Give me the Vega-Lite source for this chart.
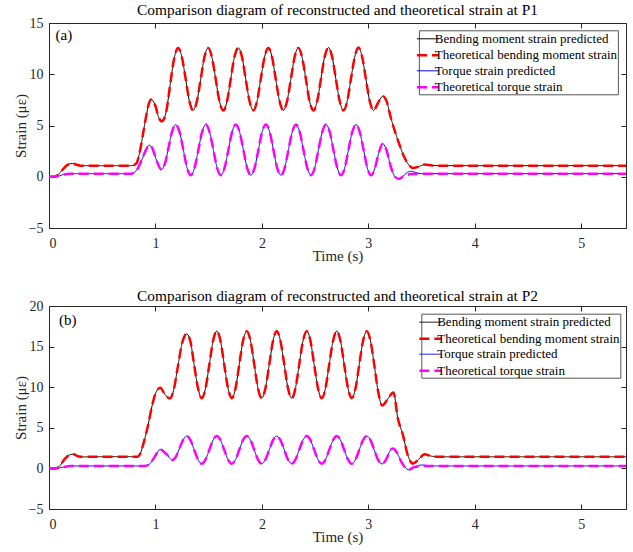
{
  "$schema": "https://vega.github.io/schema/vega-lite/v6.json",
  "padding": {"left": 12, "top": 2, "right": 0, "bottom": 0},
  "spacing": 24,
  "config": {
    "font": "Liberation Serif",
    "view": {"stroke": "#262626", "strokeWidth": 1},
    "axis": {"grid": false, "domain": false, "tickSize": -5, "tickColor": "#262626", "labelFont": "Liberation Serif", "labelFontSize": 14, "labelColor": "#262626", "titleFont": "Liberation Serif", "titleFontSize": 15, "titleFontWeight": "normal", "titleColor": "#262626"},
    "axisX": {"labelPadding": 13},
    "axisY": {"labelPadding": 11},
    "title": {"font": "Liberation Serif", "fontSize": 15.4, "fontWeight": "normal", "color": "#000000", "anchor": "middle"},
    "legend": {"labelFont": "Liberation Serif", "labelFontSize": 13, "labelColor": "#000000", "labelLimit": 0, "strokeColor": "#555555", "fillColor": "#ffffff", "padding": 0, "rowPadding": 0, "labelOffset": 1.2, "symbolOffset": -3.3, "symbolType": "M-1,0H1.9", "symbolSize": 234}
  },
  "datasets": {
    "p1": [
      {"t":0,"BP":0,"BT":0},{"t":0.05,"BP":0,"BT":0},{"t":0.08,"BP":0.15,"BT":0.15},{"t":0.12,"BP":0.6,"BT":0.6},{"t":0.16,"BP":1.05,"BT":1.05},{"t":0.2,"BP":1.27,"BT":1.27},{"t":0.22,"BP":1.3,"BT":1.3},{"t":0.25,"BP":1.2,"BT":1.2},{"t":0.3,"BP":1.08,"BT":1.08},{"t":0.78,"BP":1.08,"BT":1.08},{"t":0.82,"BP":1.3,"BT":1.3},{"t":0.86,"BP":2.8,"BT":2.8},{"t":0.89,"BP":4.6,"BT":4.6},{"t":0.92,"BP":6.3,"BT":6.3},{"t":0.94,"BP":7.2,"BT":7.2},{"t":0.962,"BP":7.53,"BT":7.53},{"t":1.0,"BP":6.9,"BT":6.9},{"t":1.03,"BP":5.8,"BT":5.8},{"t":1.06,"BP":5.41,"BT":5.41},{"t":1.1,"BP":6.3,"BT":6.3},{"t":1.137,"BP":8.9,"BT":8.9},{"t":1.175,"BP":11.5,"BT":11.5},
      {"t":1.213,"BP":12.57,"BT":12.57},{"t":1.248,"BP":11.68,"BT":11.68},{"t":1.284,"BP":9.52,"BT":9.52},{"t":1.319,"BP":7.36,"BT":7.36},{"t":1.354,"BP":6.47,"BT":6.47},{"t":1.389,"BP":7.36,"BT":7.36},{"t":1.425,"BP":9.52,"BT":9.52},{"t":1.46,"BP":11.68,"BT":11.68},
      {"t":1.495,"BP":12.57,"BT":12.57},{"t":1.53,"BP":11.68,"BT":11.68},{"t":1.566,"BP":9.52,"BT":9.52},{"t":1.601,"BP":7.36,"BT":7.36},{"t":1.637,"BP":6.47,"BT":6.47},{"t":1.672,"BP":7.36,"BT":7.36},{"t":1.707,"BP":9.52,"BT":9.52},{"t":1.742,"BP":11.68,"BT":11.68},
      {"t":1.778,"BP":12.57,"BT":12.57},{"t":1.813,"BP":11.68,"BT":11.68},{"t":1.848,"BP":9.52,"BT":9.52},{"t":1.884,"BP":7.36,"BT":7.36},{"t":1.919,"BP":6.47,"BT":6.47},{"t":1.954,"BP":7.36,"BT":7.36},{"t":1.989,"BP":9.52,"BT":9.52},{"t":2.025,"BP":11.68,"BT":11.68},
      {"t":2.06,"BP":12.57,"BT":12.57},{"t":2.095,"BP":11.68,"BT":11.68},{"t":2.13,"BP":9.52,"BT":9.52},{"t":2.166,"BP":7.36,"BT":7.36},{"t":2.201,"BP":6.47,"BT":6.47},{"t":2.236,"BP":7.36,"BT":7.36},{"t":2.272,"BP":9.52,"BT":9.52},{"t":2.307,"BP":11.68,"BT":11.68},
      {"t":2.342,"BP":12.57,"BT":12.57},{"t":2.377,"BP":11.68,"BT":11.68},{"t":2.413,"BP":9.52,"BT":9.52},{"t":2.448,"BP":7.36,"BT":7.36},{"t":2.484,"BP":6.47,"BT":6.47},{"t":2.519,"BP":7.36,"BT":7.36},{"t":2.554,"BP":9.52,"BT":9.52},{"t":2.589,"BP":11.68,"BT":11.68},
      {"t":2.625,"BP":12.6,"BT":12.6},{"t":2.66,"BP":11.68,"BT":11.68},{"t":2.695,"BP":9.52,"BT":9.52},{"t":2.731,"BP":7.36,"BT":7.36},{"t":2.766,"BP":6.47,"BT":6.47},{"t":2.801,"BP":7.36,"BT":7.36},{"t":2.836,"BP":9.52,"BT":9.52},{"t":2.872,"BP":11.68,"BT":11.68},
      {"t":2.907,"BP":12.6,"BT":12.6},{"t":2.942,"BP":11.68,"BT":11.68},{"t":2.977,"BP":9.52,"BT":9.52},{"t":3.013,"BP":7.36,"BT":7.36},{"t":3.048,"BP":6.47,"BT":6.47},
      {"t":3.09,"BP":7.2,"BT":7.2},{"t":3.135,"BP":7.85,"BT":7.85},{"t":3.17,"BP":7.4,"BT":7.4},{"t":3.21,"BP":5.8,"BT":5.8},{"t":3.26,"BP":4.1,"BT":4.1},{"t":3.3,"BP":2.9,"BT":2.9},{"t":3.34,"BP":1.85,"BT":1.85},{"t":3.38,"BP":1.15,"BT":1.15},{"t":3.418,"BP":0.85,"BT":0.85},{"t":3.47,"BP":0.98,"BT":0.98},{"t":3.53,"BP":1.19,"BT":1.19},{"t":3.6,"BP":1.1,"BT":1.1},{"t":3.7,"BP":1.08,"BT":1.08},{"t":5.42,"BP":1.08,"BT":1.08},
      {"t":0,"TP":0,"TT":0},{"t":0.05,"TP":0,"TT":0},{"t":0.1,"TP":0.1,"TT":0.1},{"t":0.15,"TP":0.25,"TT":0.25},{"t":0.2,"TP":0.3,"TT":0.3},{"t":0.77,"TP":0.3,"TT":0.3},{"t":0.82,"TP":0.6,"TT":0.6},{"t":0.87,"TP":1.6,"TT":1.6},{"t":0.91,"TP":2.6,"TT":2.6},{"t":0.94,"TP":3.07,"TT":3.07},{"t":0.97,"TP":2.8,"TT":2.8},{"t":1.01,"TP":1.6,"TT":1.6},{"t":1.056,"TP":0.7,"TT":0.7},{"t":1.09,"TP":1.34,"TT":1.34},{"t":1.124,"TP":2.9,"TT":2.9},{"t":1.157,"TP":4.45,"TT":4.45},
      {"t":1.191,"TP":5.09,"TT":5.09},{"t":1.226,"TP":4.37,"TT":4.37},{"t":1.262,"TP":2.62,"TT":2.62},{"t":1.297,"TP":0.87,"TT":0.87},{"t":1.332,"TP":0.15,"TT":0.15},{"t":1.367,"TP":0.87,"TT":0.87},{"t":1.403,"TP":2.62,"TT":2.62},{"t":1.438,"TP":4.37,"TT":4.37},
      {"t":1.473,"TP":5.09,"TT":5.09},{"t":1.508,"TP":4.37,"TT":4.37},{"t":1.544,"TP":2.62,"TT":2.62},{"t":1.579,"TP":0.87,"TT":0.87},{"t":1.614,"TP":0.15,"TT":0.15},{"t":1.649,"TP":0.87,"TT":0.87},{"t":1.685,"TP":2.62,"TT":2.62},{"t":1.72,"TP":4.37,"TT":4.37},
      {"t":1.755,"TP":5.09,"TT":5.09},{"t":1.79,"TP":4.37,"TT":4.37},{"t":1.826,"TP":2.62,"TT":2.62},{"t":1.861,"TP":0.87,"TT":0.87},{"t":1.896,"TP":0.15,"TT":0.15},{"t":1.931,"TP":0.87,"TT":0.87},{"t":1.967,"TP":2.62,"TT":2.62},{"t":2.002,"TP":4.37,"TT":4.37},
      {"t":2.038,"TP":5.09,"TT":5.09},{"t":2.073,"TP":4.37,"TT":4.37},{"t":2.108,"TP":2.62,"TT":2.62},{"t":2.143,"TP":0.87,"TT":0.87},{"t":2.179,"TP":0.15,"TT":0.15},{"t":2.214,"TP":0.87,"TT":0.87},{"t":2.249,"TP":2.62,"TT":2.62},{"t":2.285,"TP":4.37,"TT":4.37},
      {"t":2.32,"TP":5.09,"TT":5.09},{"t":2.355,"TP":4.37,"TT":4.37},{"t":2.39,"TP":2.62,"TT":2.62},{"t":2.426,"TP":0.87,"TT":0.87},{"t":2.461,"TP":0.15,"TT":0.15},{"t":2.496,"TP":0.87,"TT":0.87},{"t":2.531,"TP":2.62,"TT":2.62},{"t":2.567,"TP":4.37,"TT":4.37},
      {"t":2.602,"TP":5.09,"TT":5.09},{"t":2.637,"TP":4.37,"TT":4.37},{"t":2.672,"TP":2.62,"TT":2.62},{"t":2.708,"TP":0.87,"TT":0.87},{"t":2.743,"TP":0.15,"TT":0.15},{"t":2.778,"TP":0.87,"TT":0.87},{"t":2.813,"TP":2.62,"TT":2.62},{"t":2.849,"TP":4.37,"TT":4.37},
      {"t":2.884,"TP":5.09,"TT":5.09},{"t":2.919,"TP":4.37,"TT":4.37},{"t":2.955,"TP":2.62,"TT":2.62},{"t":2.99,"TP":0.87,"TT":0.87},{"t":3.025,"TP":0.15,"TT":0.15},
      {"t":3.06,"TP":0.8,"TT":0.8},{"t":3.1,"TP":2.4,"TT":2.4},{"t":3.135,"TP":3.23,"TT":3.23},{"t":3.17,"TP":2.6,"TT":2.6},{"t":3.21,"TP":1.0,"TT":1.0},{"t":3.25,"TP":0.0,"TT":0.0},{"t":3.286,"TP":-0.22,"TT":-0.2},{"t":3.33,"TP":0.1,"TT":0.05},{"t":3.37,"TP":0.45,"TT":0.2},{"t":3.4,"TP":0.53,"TT":0.26},{"t":3.45,"TP":0.4,"TT":0.28},{"t":3.5,"TP":0.3,"TT":0.3},{"t":5.42,"TP":0.3,"TT":0.3}
    ],
    "p2": [
      {"t":0,"BP":0,"BT":0},{"t":0.06,"BP":0,"BT":0},{"t":0.1,"BP":0.3,"BT":0.3},{"t":0.15,"BP":1.2,"BT":1.2},{"t":0.2,"BP":1.7,"BT":1.7},{"t":0.23,"BP":1.75,"BT":1.75},{"t":0.27,"BP":1.5,"BT":1.5},{"t":0.32,"BP":1.42,"BT":1.42},{"t":0.6,"BP":1.45,"BT":1.45},{"t":0.83,"BP":1.45,"BT":1.45},{"t":0.86,"BP":1.9,"BT":1.9},{"t":0.89,"BP":3.2,"BT":3.2},{"t":0.925,"BP":5.0,"BT":5.0},{"t":0.97,"BP":7.8,"BT":7.8},{"t":1.0,"BP":9.2,"BT":9.2},{"t":1.044,"BP":9.92,"BT":9.92},{"t":1.09,"BP":9.1,"BT":9.1},{"t":1.135,"BP":8.6,"BT":8.6},{"t":1.17,"BP":9.6,"BT":9.6},{"t":1.21,"BP":12.5,"BT":12.5},{"t":1.25,"BP":15.4,"BT":15.4},
      {"t":1.294,"BP":16.55,"BT":16.55},{"t":1.329,"BP":15.6,"BT":15.6},{"t":1.364,"BP":12.7,"BT":12.7},{"t":1.4,"BP":9.86,"BT":9.86},{"t":1.435,"BP":8.65,"BT":8.65},{"t":1.47,"BP":9.86,"BT":9.86},{"t":1.506,"BP":12.78,"BT":12.78},{"t":1.541,"BP":15.7,"BT":15.7},
      {"t":1.576,"BP":16.9,"BT":16.9},{"t":1.611,"BP":15.7,"BT":15.7},{"t":1.646,"BP":12.78,"BT":12.78},{"t":1.682,"BP":9.86,"BT":9.86},{"t":1.717,"BP":8.65,"BT":8.65},{"t":1.752,"BP":9.86,"BT":9.86},{"t":1.787,"BP":12.78,"BT":12.78},{"t":1.822,"BP":15.7,"BT":15.7},
      {"t":1.858,"BP":16.9,"BT":16.9},{"t":1.893,"BP":15.7,"BT":15.7},{"t":1.928,"BP":12.78,"BT":12.78},{"t":1.963,"BP":9.86,"BT":9.86},{"t":1.998,"BP":8.65,"BT":8.65},{"t":2.033,"BP":9.86,"BT":9.86},{"t":2.069,"BP":12.78,"BT":12.78},{"t":2.104,"BP":15.7,"BT":15.7},
      {"t":2.139,"BP":16.9,"BT":16.9},{"t":2.174,"BP":15.7,"BT":15.7},{"t":2.21,"BP":12.78,"BT":12.78},{"t":2.245,"BP":9.86,"BT":9.86},{"t":2.28,"BP":8.65,"BT":8.65},{"t":2.315,"BP":9.86,"BT":9.86},{"t":2.35,"BP":12.78,"BT":12.78},{"t":2.386,"BP":15.7,"BT":15.7},
      {"t":2.421,"BP":16.9,"BT":16.9},{"t":2.456,"BP":15.7,"BT":15.7},{"t":2.491,"BP":12.78,"BT":12.78},{"t":2.527,"BP":9.86,"BT":9.86},{"t":2.562,"BP":8.65,"BT":8.65},{"t":2.597,"BP":9.86,"BT":9.86},{"t":2.632,"BP":12.78,"BT":12.78},{"t":2.668,"BP":15.7,"BT":15.7},
      {"t":2.703,"BP":16.9,"BT":16.9},{"t":2.738,"BP":15.7,"BT":15.7},{"t":2.773,"BP":12.78,"BT":12.78},{"t":2.809,"BP":9.86,"BT":9.86},{"t":2.844,"BP":8.65,"BT":8.65},{"t":2.879,"BP":9.86,"BT":9.86},{"t":2.914,"BP":12.78,"BT":12.78},{"t":2.95,"BP":15.7,"BT":15.7},
      {"t":2.985,"BP":16.9,"BT":16.9},{"t":3.02,"BP":15.7,"BT":15.7},{"t":3.055,"BP":12.78,"BT":12.78},{"t":3.09,"BP":9.6,"BT":9.6},{"t":3.13,"BP":7.75,"BT":7.75},{"t":3.18,"BP":8.5,"BT":8.5},{"t":3.235,"BP":9.34,"BT":9.34},{"t":3.277,"BP":6.14,"BT":6.14},{"t":3.325,"BP":4.1,"BT":4.1},{"t":3.37,"BP":1.64,"BT":1.64},{"t":3.42,"BP":0.6,"BT":0.6},{"t":3.47,"BP":1.1,"BT":1.1},{"t":3.53,"BP":1.75,"BT":1.75},{"t":3.58,"BP":1.55,"BT":1.55},{"t":3.65,"BP":1.43,"BT":1.43},{"t":5.42,"BP":1.43,"BT":1.43},
      {"t":0,"TP":0,"TT":0},{"t":0.06,"TP":0,"TT":0},{"t":0.1,"TP":0.08,"TT":0.08},{"t":0.15,"TP":0.2,"TT":0.2},{"t":0.2,"TP":0.3,"TT":0.3},{"t":0.9,"TP":0.3,"TT":0.3},{"t":0.95,"TP":0.6,"TT":0.6},{"t":1.0,"TP":1.6,"TT":1.6},{"t":1.044,"TP":2.33,"TT":2.33},{"t":1.1,"TP":1.8,"TT":1.8},{"t":1.16,"TP":1.03,"TT":1.03},{"t":1.19,"TP":1.4,"TT":1.4},{"t":1.227,"TP":2.5,"TT":2.5},{"t":1.26,"TP":3.5,"TT":3.5},
      {"t":1.294,"TP":3.98,"TT":3.98},{"t":1.329,"TP":3.48,"TT":3.48},{"t":1.364,"TP":2.28,"TT":2.28},{"t":1.4,"TP":1.08,"TT":1.08},{"t":1.435,"TP":0.58,"TT":0.58},{"t":1.47,"TP":1.08,"TT":1.08},{"t":1.506,"TP":2.28,"TT":2.28},{"t":1.541,"TP":3.48,"TT":3.48},
      {"t":1.576,"TP":3.98,"TT":3.98},{"t":1.611,"TP":3.48,"TT":3.48},{"t":1.646,"TP":2.28,"TT":2.28},{"t":1.682,"TP":1.08,"TT":1.08},{"t":1.717,"TP":0.58,"TT":0.58},{"t":1.752,"TP":1.08,"TT":1.08},{"t":1.787,"TP":2.28,"TT":2.28},{"t":1.822,"TP":3.48,"TT":3.48},
      {"t":1.858,"TP":3.98,"TT":3.98},{"t":1.893,"TP":3.48,"TT":3.48},{"t":1.928,"TP":2.28,"TT":2.28},{"t":1.963,"TP":1.08,"TT":1.08},{"t":1.998,"TP":0.58,"TT":0.58},{"t":2.033,"TP":1.08,"TT":1.08},{"t":2.069,"TP":2.28,"TT":2.28},{"t":2.104,"TP":3.48,"TT":3.48},
      {"t":2.139,"TP":3.98,"TT":3.98},{"t":2.174,"TP":3.48,"TT":3.48},{"t":2.21,"TP":2.28,"TT":2.28},{"t":2.245,"TP":1.08,"TT":1.08},{"t":2.28,"TP":0.58,"TT":0.58},{"t":2.315,"TP":1.08,"TT":1.08},{"t":2.35,"TP":2.28,"TT":2.28},{"t":2.386,"TP":3.48,"TT":3.48},
      {"t":2.421,"TP":3.98,"TT":3.98},{"t":2.456,"TP":3.48,"TT":3.48},{"t":2.491,"TP":2.28,"TT":2.28},{"t":2.527,"TP":1.08,"TT":1.08},{"t":2.562,"TP":0.58,"TT":0.58},{"t":2.597,"TP":1.08,"TT":1.08},{"t":2.632,"TP":2.28,"TT":2.28},{"t":2.668,"TP":3.48,"TT":3.48},
      {"t":2.703,"TP":3.98,"TT":3.98},{"t":2.738,"TP":3.48,"TT":3.48},{"t":2.773,"TP":2.28,"TT":2.28},{"t":2.809,"TP":1.08,"TT":1.08},{"t":2.844,"TP":0.58,"TT":0.58},{"t":2.879,"TP":1.08,"TT":1.08},{"t":2.914,"TP":2.28,"TT":2.28},{"t":2.95,"TP":3.48,"TT":3.48},
      {"t":2.985,"TP":3.98,"TT":3.98},{"t":3.02,"TP":3.48,"TT":3.48},{"t":3.055,"TP":2.28,"TT":2.28},{"t":3.09,"TP":1.08,"TT":1.08},{"t":3.13,"TP":0.55,"TT":0.55},{"t":3.17,"TP":1.2,"TT":1.2},{"t":3.2,"TP":2.1,"TT":2.1},{"t":3.23,"TP":2.45,"TT":2.45},{"t":3.27,"TP":1.9,"TT":1.9},{"t":3.31,"TP":0.8,"TT":0.8},{"t":3.35,"TP":0.05,"TT":0.05},{"t":3.386,"TP":-0.2,"TT":-0.1},{"t":3.43,"TP":0.15,"TT":0.15},{"t":3.5,"TP":0.42,"TT":0.3},{"t":3.56,"TP":0.35,"TT":0.3},{"t":3.65,"TP":0.3,"TT":0.3},{"t":5.42,"TP":0.3,"TT":0.3}
    ]
  },
  "vconcat": [
    {
      "width": 577, "height": 205,
      "title": {"text": "Comparison diagram of reconstructed and theoretical strain at P1", "offset": -2},
      "layer": [
        {
          "data": {"name": "p1"},
          "transform": [{"fold": ["BP", "BT", "TP", "TT"], "as": ["s", "v"]}, {"filter": "isValid(datum.v)"}],
          "mark": {"type": "line", "interpolate": "monotone"},
          "encoding": {
            "x": {"field": "t", "type": "quantitative", "scale": {"domain": [0, 5.42], "nice": false}, "axis": {"title": "Time (s)", "values": [0, 1, 2, 3, 4, 5], "titlePadding": -2}},
            "y": {"field": "v", "type": "quantitative", "scale": {"domain": [-5, 15], "nice": false}, "axis": {"title": "Strain (με)", "values": [-5, 0, 5, 10, 15], "titlePadding": 0}},
            "color": {"field": "s", "type": "nominal", "scale": {"domain": ["BP", "BT", "TP", "TT"], "range": ["#000000", "#ff0000", "#0000ff", "#ff00ff"]},
              "legend": {"title": null, "orient": "none", "legendX": 369.9, "legendY": 7.3, "labelExpr": "{'BP':'Bending moment strain predicted','BT':'Theoretical bending moment strain','TP':'Torque strain predicted','TT':'Theoretical torque strain'}[datum.label]"}},
            "strokeDash": {"field": "s", "type": "nominal", "scale": {"domain": ["BP", "BT", "TP", "TT"], "range": [[1, 0], [10, 5], [1, 0], [10, 5]]}},
            "strokeWidth": {"field": "s", "type": "nominal", "scale": {"type": "ordinal", "domain": ["BP", "BT", "TP", "TT"], "range": [1, 2.5, 1, 2.5]}}
          }
        },
        {
          "data": {"values": [{"t": 0.062, "v": 13.8, "txt": "(a)"}]},
          "mark": {"type": "text", "align": "left", "baseline": "middle", "fontSize": 15, "font": "Liberation Serif", "color": "#000000"},
          "encoding": {
            "x": {"field": "t", "type": "quantitative", "axis": {"orient": "top", "labels": false, "title": null, "values": [0, 1, 2, 3, 4, 5]}},
            "y": {"field": "v", "type": "quantitative", "axis": {"orient": "right", "labels": false, "title": null, "values": [-5, 0, 5, 10, 15]}},
            "text": {"field": "txt"}
          }
        }
      ],
      "resolve": {"axis": {"x": "independent", "y": "independent"}}
    },
    {
      "width": 577, "height": 203,
      "title": {"text": "Comparison diagram of reconstructed and theoretical strain at P2", "offset": -5},
      "layer": [
        {
          "data": {"name": "p2"},
          "transform": [{"fold": ["BP", "BT", "TP", "TT"], "as": ["s", "v"]}, {"filter": "isValid(datum.v)"}],
          "mark": {"type": "line", "interpolate": "monotone"},
          "encoding": {
            "x": {"field": "t", "type": "quantitative", "scale": {"domain": [0, 5.42], "nice": false}, "axis": {"title": "Time (s)", "values": [0, 1, 2, 3, 4, 5], "titlePadding": -2}},
            "y": {"field": "v", "type": "quantitative", "scale": {"domain": [-5, 20], "nice": false}, "axis": {"title": "Strain (με)", "values": [-5, 0, 5, 10, 15, 20], "titlePadding": 0}},
            "color": {"field": "s", "type": "nominal", "scale": {"domain": ["BP", "BT", "TP", "TT"], "range": ["#000000", "#ff0000", "#0000ff", "#ff00ff"]},
              "legend": {"title": null, "orient": "none", "legendX": 372.3, "legendY": 7.7, "labelExpr": "{'BP':'Bending moment strain predicted','BT':'Theoretical bending moment strain','TP':'Torque strain predicted','TT':'Theoretical torque strain'}[datum.label]"}},
            "strokeDash": {"field": "s", "type": "nominal", "scale": {"domain": ["BP", "BT", "TP", "TT"], "range": [[1, 0], [10, 5], [1, 0], [10, 5]]}},
            "strokeWidth": {"field": "s", "type": "nominal", "scale": {"type": "ordinal", "domain": ["BP", "BT", "TP", "TT"], "range": [1, 2.5, 1, 2.5]}}
          }
        },
        {
          "data": {"values": [{"t": 0.094, "v": 18.3, "txt": "(b)"}]},
          "mark": {"type": "text", "align": "left", "baseline": "middle", "fontSize": 15, "font": "Liberation Serif", "color": "#000000"},
          "encoding": {
            "x": {"field": "t", "type": "quantitative", "axis": {"orient": "top", "labels": false, "title": null, "values": [0, 1, 2, 3, 4, 5]}},
            "y": {"field": "v", "type": "quantitative", "axis": {"orient": "right", "labels": false, "title": null, "values": [-5, 0, 5, 10, 15, 20]}},
            "text": {"field": "txt"}
          }
        }
      ],
      "resolve": {"axis": {"x": "independent", "y": "independent"}}
    }
  ],
  "resolve": {"scale": {"color": "independent", "strokeDash": "independent", "strokeWidth": "independent"}, "legend": {"color": "independent", "strokeDash": "independent", "strokeWidth": "independent"}}
}
